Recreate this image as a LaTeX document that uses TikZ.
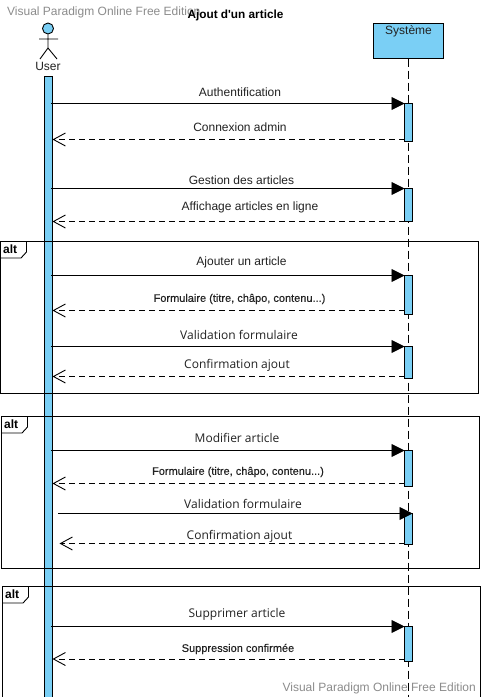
\documentclass[tikz,border=0pt]{standalone}
\usepackage{fontspec}
\setmainfont{Liberation Sans}
\newfontfamily\opn{Open Sans}
\newfontfamily\semi[FakeBold=0.25]{Liberation Sans}
\newfontfamily\ttl{Liberation Sans}
\usetikzlibrary{arrows.meta}
\definecolor{barblue}{HTML}{7ACFF5}
\definecolor{wm}{HTML}{8C8C8C}
\definecolor{txt}{HTML}{222222}
\tikzset{
 x=1pt,y=-1pt,
 bar/.style={draw=black,line width=0.9pt,fill=barblue,minimum width=8pt,inner sep=0pt,outer sep=0pt,anchor=north west},
 callmsg/.style={line width=0.9pt,-{Triangle[length=13pt,width=13pt]}},
 retmsg/.style={line width=0.75pt,dash pattern=on 6pt off 4pt,-{Straight Barb[length=12pt,width=13pt,line width=0.9pt]}},
 frag/.style={draw=black,line width=0.9pt},
 lab/.style={font=\fontsize{12}{14}\selectfont,text=txt,inner sep=0pt},
 labo/.style={font=\opn\fontsize{12}{14}\selectfont,text=txt,inner sep=0pt},
 labs/.style={font=\semi\fontsize{11}{12}\selectfont,text=txt,inner sep=0pt},
 altlab/.style={font=\bfseries\fontsize{12}{14}\selectfont,inner sep=0pt,anchor=west},
 water/.style={font=\fontsize{12}{14}\selectfont,text=wm,inner sep=0pt},
 actorline/.style={line width=0.9pt},
}
\begin{document}
\begin{tikzpicture}
\useasboundingbox (0,0) rectangle (481,697);
\fill[white] (0,0) rectangle (481,697);
% lifeline and user bar
\node[draw=black,line width=0.9pt,fill=barblue,minimum width=70pt,minimum height=35pt,inner sep=0pt,outer sep=0pt,anchor=north west] (sys) at (373.5,23.5) {};
\coordinate (sysend) at (408.5,697);
\draw[line width=0.9pt,dash pattern=on 8pt off 4pt] (sys.south) -- (sysend);
\node[bar,minimum height=630pt] (ubar) at (44.5,76.5) {};
% activations
\node[bar,minimum height=38pt] (a1) at (404.5,103.5) {};
\node[bar,minimum height=33pt] (a2) at (404.5,188.5) {};
\node[bar,minimum height=39pt] (a3) at (404.5,275.5) {};
\node[bar,minimum height=32pt] (a4) at (404.5,346.5) {};
\node[bar,minimum height=36pt] (a5) at (404.5,450.5) {};
\node[bar,minimum height=31pt] (a6) at (404.5,513.5) {};
\node[bar,minimum height=35pt] (a7) at (404.5,626.5) {};
% frames
\draw[frag] (0.5,241.5) rectangle (478.5,393);
\draw[frag] (1.5,416.5) rectangle (479.5,568.5);
\draw[frag] (2.5,720) -- (2.5,586.5) -- (480.5,586.5) -- (480.5,720);
\draw[frag] (0.5,258) -- (21,258) -- (26.5,252) -- (26.5,241.5);
\draw[frag] (1.5,433) -- (22,433) -- (27.5,427) -- (27.5,416.5);
\draw[frag] (2.5,603) -- (23,603) -- (28.5,597) -- (28.5,586.5);
\node[altlab] (alt1) at (3,249.5) {alt};
\node[altlab] (alt2) at (4,424.5) {alt};
\node[altlab] (alt3) at (5,594.5) {alt};
% actor
\node[draw=black,line width=0.9pt,fill=barblue,circle,minimum size=11pt,inner sep=0pt] (head) at (48,28.5) {};
\coordinate (hip) at (48,48);
\coordinate (arml) at (39,39);
\coordinate (armr) at (58,39);
\coordinate (legl) at (40,59);
\coordinate (legr) at (57,59);
\draw[actorline] (head.south) -- (hip) (arml) -- (armr) (legl) -- (hip) -- (legr);
\node[lab] (user) at (48,66) {User};
\node[lab,anchor=center] (systxt) at (408.5,31) {Système};
% messages
\coordinate (s1) at (51,103.5); \coordinate (r1) at (52.5,139.5);
\coordinate (s2) at (51,188.5); \coordinate (r2) at (52.5,221.5);
\coordinate (s3) at (51,275.5); \coordinate (r3) at (52.5,310.5);
\coordinate (s4) at (51,346.5); \coordinate (r4) at (52.5,376.5);
\coordinate (s5) at (51,450.5); \coordinate (r5) at (52.5,483.5);
\coordinate (s6) at (58,513.5); \coordinate (r6) at (59.5,543.5);
\coordinate (s7) at (51,626.5); \coordinate (r7) at (52.5,659);
\draw[callmsg] (s1) -- (a1.north west);
\draw[retmsg] (a1.west |- r1) -- (r1);
\draw[callmsg] (s2) -- (a2.north west);
\draw[retmsg] (a2.west |- r2) -- (r2);
\draw[callmsg] (s3) -- (a3.north west);
\draw[retmsg] (a3.west |- r3) -- (r3);
\draw[callmsg] (s4) -- (a4.north west);
\draw[retmsg] (a4.west |- r4) -- (r4);
\draw[callmsg] (s5) -- (a5.north west);
\draw[retmsg] (a5.west |- r5) -- (r5);
\draw[callmsg] (s6) -- (a6.north east);
\draw[retmsg] (a6.west |- r6) -- (r6);
\draw[callmsg] (s7) -- (a7.north west);
\draw[retmsg] (a7.west |- r7) -- (r7);
% labels
\node[lab] (l1) at (240,92) {Authentification};
\node[lab] (l2) at (240,127.5) {Connexion admin};
\node[lab] (l3) at (241.5,180.5) {Gestion des articles};
\node[lab] (l4) at (250,207.5) {Affichage articles en ligne};
\node[lab] (l5) at (241.5,262.5) {Ajouter un article};
\node[labs] (l6) at (239.5,299) {Formulaire (titre, châpo, contenu...)};
\node[labo] (l7) at (239,334.8) {Validation formulaire};
\node[labo] (l8) at (237,365) {Confirmation ajout};
\node[labo] (l9) at (237,438) {Modifier article};
\node[labs] (l10) at (238,472) {Formulaire (titre, châpo, contenu...)};
\node[labo] (l11) at (243,504.3) {Validation formulaire};
\node[labo] (l12) at (239.5,536.3) {Confirmation ajout};
\node[labo] (l13) at (237,614) {Supprimer article};
\node[labs] (l14) at (238,649) {Suppression confirmée};
% title and watermark
\node[water,anchor=west] (wm1) at (7,12) {Visual Paradigm Online Free Edition};
\node[water,anchor=east] (wm2) at (476,688) {Visual Paradigm Online Free Edition};
\node[font=\ttl\bfseries\fontsize{11.8}{14}\selectfont,inner sep=0pt] (title) at (235.5,15) {Ajout d'un article};
\end{tikzpicture}
\end{document}
